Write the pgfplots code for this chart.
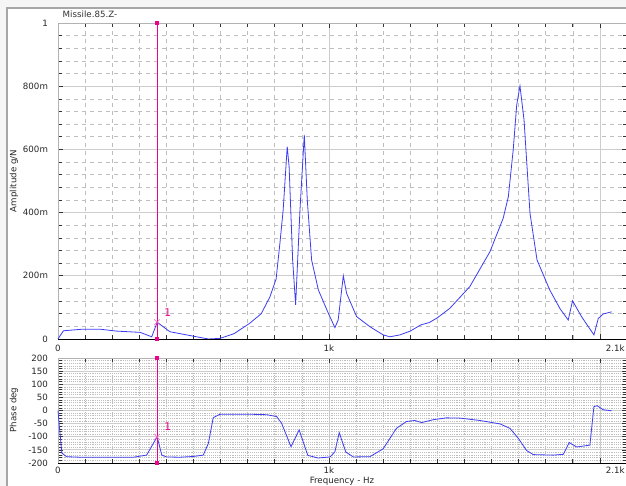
\documentclass[border=0pt]{standalone}
\usepackage{fontspec}
\setmainfont{DejaVu Sans}
\usepackage{pgfplots}
\pgfplotsset{compat=1.18}

\definecolor{curve}{RGB}{60,60,245}
\definecolor{gridmaj}{RGB}{205,205,205}
\definecolor{gridmin}{RGB}{190,190,190}

\pgfplotsset{
  frf/.style={
    scale only axis, width=426.75pt,
    xmin=0, xmax=2100,
    xtick={0,1000,2000}, xticklabels={0,1k,},
    minor xtick={100,200,...,2000},
    extra x ticks={2100}, extra x tick labels={2.1k},
    extra x tick style={grid=none, major tick length=0pt,
      xticklabel style={anchor=north east, xshift=-1pt}},
    tick align=inside, major tick length=4pt, minor tick length=3pt,
    tick style={black!80, line width=0.5pt},
    axis line style={draw=gray!60},
    grid=both,
    major grid style={gridmaj, line width=0.6pt},
    font=\fontsize{6.5}{8}\selectfont,
    tick label style={font=\fontsize{6.5}{8}\selectfont, text=black!85},
    yticklabel style={xshift=-4pt},
    xticklabel style={inner sep=0.5pt, yshift=-4pt},
    clip=false,
  },
}

\begin{document}
\begin{tikzpicture}
\useasboundingbox (0,0) rectangle (469.5pt,364.5pt);
\clip (0,0) rectangle (469.5pt,364.5pt);
\fill[gray!8] (0,0) rectangle (469.5pt,364.5pt);
\fill[white] (5.25pt,0) rectangle (469.5pt,358.5pt);
\draw[gray!70, line width=0.8pt] (5.25pt,0) -- (5.25pt,358.5pt) -- (469.5pt,358.5pt);

% amplitude
\begin{axis}[frf, at={(43.5pt,110.25pt)}, anchor=south west, height=237pt,
    ymin=0, ymax=1,
    ytick={0,0.2,0.4,0.6,0.8,1}, yticklabels={0,200m,400m,600m,800m,1},
    minor ytick={0.04,0.08,...,0.97},
    minor grid style={gridmin, dashed, line width=0.45pt}]
  \addplot[curve, line width=0.6pt] coordinates {
    (0,0) (20,0.026) (90,0.031) (155,0.031) (216,0.025) (303,0.021) (346,0.007)
    (366,0.053) (413,0.023) (499,0.009) (555,0.0) (598,0.002) (650,0.017)
    (708,0.05) (750,0.08) (782,0.133) (805,0.19) (819,0.303) (831,0.408)
    (846,0.609) (853,0.545) (866,0.25) (877,0.108) (893,0.408) (909,0.646)
    (920,0.44) (936,0.25) (961,0.155) (998,0.081) (1022,0.036) (1034,0.06)
    (1053,0.2) (1065,0.145) (1102,0.071) (1151,0.039) (1200,0.013) (1225,0.007)
    (1262,0.013) (1300,0.025) (1340,0.045) (1370,0.052) (1400,0.067) (1446,0.097)
    (1520,0.166) (1594,0.276) (1643,0.382) (1662,0.45) (1680,0.598) (1693,0.741)
    (1705,0.801) (1720,0.693) (1742,0.398) (1768,0.25) (1815,0.155) (1852,0.097)
    (1883,0.06) (1899,0.121) (1932,0.071) (1978,0.013) (1994,0.065) (2012,0.079)
    (2043,0.086)};
  \addplot[magenta, line width=0.5pt] coordinates {(365,0) (365,1)};
  \addplot[magenta, only marks, mark=square*, mark size=1.2pt] coordinates {(365,0) (365,1)};
  \addplot[magenta!60, only marks, mark=x, mark size=3pt] coordinates {(365,0.053)}
    node[pos=0, anchor=south west, text=magenta, font=\fontsize{8}{9}\selectfont, xshift=2pt, yshift=1pt] {1};
  \draw[black, line width=0.6pt] (rel axis cs:0,0) -- (rel axis cs:1,0);
\end{axis}

% phase
\begin{axis}[frf, at={(43.5pt,17.25pt)}, anchor=south west, height=78.75pt,
    ymin=-200, ymax=200,
    ytick={-200,-150,...,200},
    yticklabels={-200,-150,-100,-50,0,50,100,150,200},
    minor y tick num=4,
    minor grid style={gridmin, densely dotted, line width=0.45pt},
    xticklabel style={yshift=1.5pt}]
  \addplot[curve, line width=0.6pt] coordinates {
    (0,0) (5,-60) (14,-162) (32,-176) (81,-178) (278,-178) (327,-170) (352,-125)
    (366,-100) (383,-170) (401,-177) (450,-178) (500,-175) (536,-170) (555,-125)
    (573,-27) (598,-14) (700,-14) (770,-16) (807,-23) (825,-48) (860,-138)
    (890,-74) (922,-171) (960,-181) (1004,-177) (1022,-157) (1038,-84) (1062,-158)
    (1090,-177) (1151,-176) (1200,-146) (1249,-68) (1286,-42) (1317,-38) (1342,-46)
    (1385,-35) (1434,-28) (1483,-29) (1557,-38) (1631,-51) (1668,-68) (1699,-106)
    (1729,-152) (1754,-168) (1827,-170) (1865,-167) (1887,-122) (1914,-139)
    (1963,-132) (1978,15) (1990,18) (2012,3) (2043,-1)};
  \addplot[magenta, line width=0.5pt] coordinates {(365,-200) (365,200)};
  \addplot[magenta, only marks, mark=square*, mark size=1.2pt] coordinates {(365,-200) (365,200)};
  \addplot[magenta!60, only marks, mark=x, mark size=3pt] coordinates {(365,-100)}
    node[pos=0, anchor=south west, text=magenta, font=\fontsize{8}{9}\selectfont, xshift=2pt, yshift=1pt] {1};
  \draw[black, line width=0.6pt] (rel axis cs:0,0) -- (rel axis cs:1,0);
\end{axis}

\node[anchor=west, font=\fontsize{6.5}{8}\selectfont, text=black!80] at (43.5pt,354pt) {Missile.85.Z-};
\node[rotate=90, font=\fontsize{6.5}{8}\selectfont, text=black!85] at (10.5pt,228.75pt) {Amplitude g/N};
\node[rotate=90, font=\fontsize{6.5}{8}\selectfont, text=black!85] at (10.5pt,57pt) {Phase deg};
\node[anchor=base, inner sep=0pt, font=\fontsize{6.5}{8}\selectfont, text=black!85] at (256.5pt,1.9pt) {Frequency - Hz};
\end{tikzpicture}
\end{document}
